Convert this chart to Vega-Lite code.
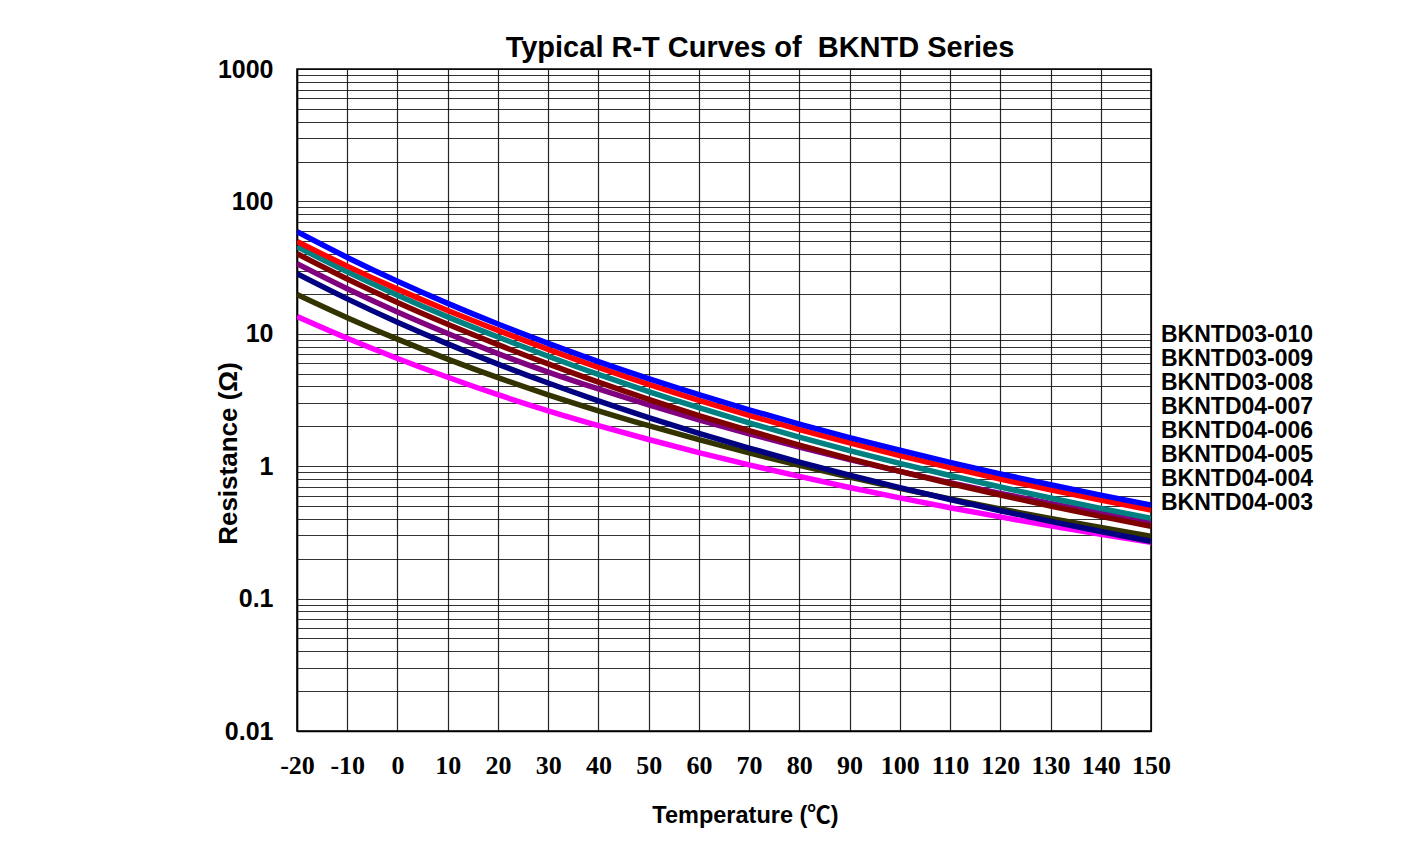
{
  "$schema": "https://vega.github.io/schema/vega-lite/v6.json",
  "autosize": {"type": "none"},
  "width": 854,
  "height": 662,
  "padding": {"left": 297, "top": 69, "right": 264, "bottom": 134},
  "background": "white",
  "config": {
    "font": "Liberation Sans",
    "view": {"stroke": "#000", "strokeWidth": 1.5}
  },
  "title": {
    "text": "Typical R-T Curves of \u00a0BKNTD Series",
    "font": "Liberation Sans",
    "fontSize": 29,
    "fontWeight": "bold",
    "color": "#000",
    "anchor": "middle",
    "frame": "group",
    "dx": 36,
    "dy": 14,
    "offset": 8
  },
  "data": {
    "values": [
      {"s": "BKNTD04-003", "t": -20, "r": 13.51}, {"s": "BKNTD04-003", "t": -10, "r": 9.249}, {"s": "BKNTD04-003", "t": 0, "r": 6.511}, {"s": "BKNTD04-003", "t": 10, "r": 4.698}, {"s": "BKNTD04-003", "t": 20, "r": 3.466}, {"s": "BKNTD04-003", "t": 30, "r": 2.620}, {"s": "BKNTD04-003", "t": 40, "r": 2.026}, {"s": "BKNTD04-003", "t": 50, "r": 1.591}, {"s": "BKNTD04-003", "t": 60, "r": 1.268}, {"s": "BKNTD04-003", "t": 70, "r": 1.023}, {"s": "BKNTD04-003", "t": 80, "r": 0.837}, {"s": "BKNTD04-003", "t": 90, "r": 0.691}, {"s": "BKNTD04-003", "t": 100, "r": 0.577}, {"s": "BKNTD04-003", "t": 110, "r": 0.486}, {"s": "BKNTD04-003", "t": 120, "r": 0.414}, {"s": "BKNTD04-003", "t": 130, "r": 0.354}, {"s": "BKNTD04-003", "t": 140, "r": 0.306}, {"s": "BKNTD04-003", "t": 150, "r": 0.266},
      {"s": "BKNTD04-004", "t": -20, "r": 19.82}, {"s": "BKNTD04-004", "t": -10, "r": 13.24}, {"s": "BKNTD04-004", "t": 0, "r": 9.118}, {"s": "BKNTD04-004", "t": 10, "r": 6.444}, {"s": "BKNTD04-004", "t": 20, "r": 4.664}, {"s": "BKNTD04-004", "t": 30, "r": 3.459}, {"s": "BKNTD04-004", "t": 40, "r": 2.622}, {"s": "BKNTD04-004", "t": 50, "r": 2.023}, {"s": "BKNTD04-004", "t": 60, "r": 1.585}, {"s": "BKNTD04-004", "t": 70, "r": 1.259}, {"s": "BKNTD04-004", "t": 80, "r": 1.014}, {"s": "BKNTD04-004", "t": 90, "r": 0.826}, {"s": "BKNTD04-004", "t": 100, "r": 0.680}, {"s": "BKNTD04-004", "t": 110, "r": 0.566}, {"s": "BKNTD04-004", "t": 120, "r": 0.475}, {"s": "BKNTD04-004", "t": 130, "r": 0.403}, {"s": "BKNTD04-004", "t": 140, "r": 0.344}, {"s": "BKNTD04-004", "t": 150, "r": 0.296},
      {"s": "BKNTD04-005", "t": -20, "r": 28.41}, {"s": "BKNTD04-005", "t": -10, "r": 18.35}, {"s": "BKNTD04-005", "t": 0, "r": 12.23}, {"s": "BKNTD04-005", "t": 10, "r": 8.391}, {"s": "BKNTD04-005", "t": 20, "r": 5.907}, {"s": "BKNTD04-005", "t": 30, "r": 4.249}, {"s": "BKNTD04-005", "t": 40, "r": 3.117}, {"s": "BKNTD04-005", "t": 50, "r": 2.331}, {"s": "BKNTD04-005", "t": 60, "r": 1.773}, {"s": "BKNTD04-005", "t": 70, "r": 1.371}, {"s": "BKNTD04-005", "t": 80, "r": 1.075}, {"s": "BKNTD04-005", "t": 90, "r": 0.855}, {"s": "BKNTD04-005", "t": 100, "r": 0.688}, {"s": "BKNTD04-005", "t": 110, "r": 0.560}, {"s": "BKNTD04-005", "t": 120, "r": 0.461}, {"s": "BKNTD04-005", "t": 130, "r": 0.383}, {"s": "BKNTD04-005", "t": 140, "r": 0.321}, {"s": "BKNTD04-005", "t": 150, "r": 0.271},
      {"s": "BKNTD04-006", "t": -20, "r": 33.83}, {"s": "BKNTD04-006", "t": -10, "r": 21.89}, {"s": "BKNTD04-006", "t": 0, "r": 14.62}, {"s": "BKNTD04-006", "t": 10, "r": 10.05}, {"s": "BKNTD04-006", "t": 20, "r": 7.083}, {"s": "BKNTD04-006", "t": 30, "r": 5.141}, {"s": "BKNTD04-006", "t": 40, "r": 3.831}, {"s": "BKNTD04-006", "t": 50, "r": 2.907}, {"s": "BKNTD04-006", "t": 60, "r": 2.243}, {"s": "BKNTD04-006", "t": 70, "r": 1.756}, {"s": "BKNTD04-006", "t": 80, "r": 1.395}, {"s": "BKNTD04-006", "t": 90, "r": 1.122}, {"s": "BKNTD04-006", "t": 100, "r": 0.913}, {"s": "BKNTD04-006", "t": 110, "r": 0.751}, {"s": "BKNTD04-006", "t": 120, "r": 0.624}, {"s": "BKNTD04-006", "t": 130, "r": 0.523}, {"s": "BKNTD04-006", "t": 140, "r": 0.442}, {"s": "BKNTD04-006", "t": 150, "r": 0.377},
      {"s": "BKNTD04-007", "t": -20, "r": 40.33}, {"s": "BKNTD04-007", "t": -10, "r": 25.95}, {"s": "BKNTD04-007", "t": 0, "r": 17.24}, {"s": "BKNTD04-007", "t": 10, "r": 11.80}, {"s": "BKNTD04-007", "t": 20, "r": 8.281}, {"s": "BKNTD04-007", "t": 30, "r": 5.923}, {"s": "BKNTD04-007", "t": 40, "r": 4.309}, {"s": "BKNTD04-007", "t": 50, "r": 3.197}, {"s": "BKNTD04-007", "t": 60, "r": 2.415}, {"s": "BKNTD04-007", "t": 70, "r": 1.854}, {"s": "BKNTD04-007", "t": 80, "r": 1.445}, {"s": "BKNTD04-007", "t": 90, "r": 1.142}, {"s": "BKNTD04-007", "t": 100, "r": 0.914}, {"s": "BKNTD04-007", "t": 110, "r": 0.740}, {"s": "BKNTD04-007", "t": 120, "r": 0.6056}, {"s": "BKNTD04-007", "t": 130, "r": 0.5005}, {"s": "BKNTD04-007", "t": 140, "r": 0.4176}, {"s": "BKNTD04-007", "t": 150, "r": 0.3513},
      {"s": "BKNTD03-008", "t": -20, "r": 45.54}, {"s": "BKNTD03-008", "t": -10, "r": 29.39}, {"s": "BKNTD03-008", "t": 0, "r": 19.59}, {"s": "BKNTD03-008", "t": 10, "r": 13.43}, {"s": "BKNTD03-008", "t": 20, "r": 9.453}, {"s": "BKNTD03-008", "t": 30, "r": 6.772}, {"s": "BKNTD03-008", "t": 40, "r": 4.930}, {"s": "BKNTD03-008", "t": 50, "r": 3.661}, {"s": "BKNTD03-008", "t": 60, "r": 2.767}, {"s": "BKNTD03-008", "t": 70, "r": 2.126}, {"s": "BKNTD03-008", "t": 80, "r": 1.658}, {"s": "BKNTD03-008", "t": 90, "r": 1.311}, {"s": "BKNTD03-008", "t": 100, "r": 1.050}, {"s": "BKNTD03-008", "t": 110, "r": 0.850}, {"s": "BKNTD03-008", "t": 120, "r": 0.696}, {"s": "BKNTD03-008", "t": 130, "r": 0.5755}, {"s": "BKNTD03-008", "t": 140, "r": 0.480}, {"s": "BKNTD03-008", "t": 150, "r": 0.404},
      {"s": "BKNTD03-009", "t": -20, "r": 49.93}, {"s": "BKNTD03-009", "t": -10, "r": 32.44}, {"s": "BKNTD03-009", "t": 0, "r": 21.75}, {"s": "BKNTD03-009", "t": 10, "r": 15.00}, {"s": "BKNTD03-009", "t": 20, "r": 10.61}, {"s": "BKNTD03-009", "t": 30, "r": 7.630}, {"s": "BKNTD03-009", "t": 40, "r": 5.571}, {"s": "BKNTD03-009", "t": 50, "r": 4.147}, {"s": "BKNTD03-009", "t": 60, "r": 3.143}, {"s": "BKNTD03-009", "t": 70, "r": 2.420}, {"s": "BKNTD03-009", "t": 80, "r": 1.892}, {"s": "BKNTD03-009", "t": 90, "r": 1.499}, {"s": "BKNTD03-009", "t": 100, "r": 1.202}, {"s": "BKNTD03-009", "t": 110, "r": 0.976}, {"s": "BKNTD03-009", "t": 120, "r": 0.800}, {"s": "BKNTD03-009", "t": 130, "r": 0.663}, {"s": "BKNTD03-009", "t": 140, "r": 0.554}, {"s": "BKNTD03-009", "t": 150, "r": 0.467},
      {"s": "BKNTD03-010", "t": -20, "r": 59.02}, {"s": "BKNTD03-010", "t": -10, "r": 37.75}, {"s": "BKNTD03-010", "t": 0, "r": 24.95}, {"s": "BKNTD03-010", "t": 10, "r": 16.98}, {"s": "BKNTD03-010", "t": 20, "r": 11.86}, {"s": "BKNTD03-010", "t": 30, "r": 8.468}, {"s": "BKNTD03-010", "t": 40, "r": 6.171}, {"s": "BKNTD03-010", "t": 50, "r": 4.586}, {"s": "BKNTD03-010", "t": 60, "r": 3.469}, {"s": "BKNTD03-010", "t": 70, "r": 2.667}, {"s": "BKNTD03-010", "t": 80, "r": 2.081}, {"s": "BKNTD03-010", "t": 90, "r": 1.646}, {"s": "BKNTD03-010", "t": 100, "r": 1.319}, {"s": "BKNTD03-010", "t": 110, "r": 1.069}, {"s": "BKNTD03-010", "t": 120, "r": 0.876}, {"s": "BKNTD03-010", "t": 130, "r": 0.7245}, {"s": "BKNTD03-010", "t": 140, "r": 0.605}, {"s": "BKNTD03-010", "t": 150, "r": 0.509}
    ]
  },
  "mark": {"type": "line", "strokeWidth": 5.5, "interpolate": "monotone", "strokeCap": "butt", "clip": true},
  "encoding": {
    "x": {
      "field": "t",
      "type": "quantitative",
      "scale": {"domain": [-20, 150], "nice": false, "zero": false},
      "axis": {
        "values": [-20, -10, 0, 10, 20, 30, 40, 50, 60, 70, 80, 90, 100, 110, 120, 130, 140, 150],
        "labelExpr": "'' + datum.value",
        "title": "Temperature (℃)",
        "titleFont": "Liberation Sans, Noto Sans CJK SC",
        "titleFontSize": 23.5,
        "titleFontWeight": "bold",
        "titleColor": "#000",
        "titleX": 448,
        "titleY": 84,
        "titleBaseline": "middle",
        "titleAlign": "center",
        "labelFont": "Liberation Serif",
        "labelFontSize": 26,
        "labelFontWeight": "bold",
        "labelColor": "#000",
        "labelPadding": 21,
        "labelFlush": false,
        "labelOverlap": false,
        "ticks": false,
        "domainColor": "#000",
        "domainWidth": 1.5,
        "grid": true,
        "gridColor": "#000",
        "gridWidth": 1.2,
        "gridOpacity": 0.85
      }
    },
    "y": {
      "field": "r",
      "type": "quantitative",
      "scale": {"type": "log", "domain": [0.01, 1000], "nice": false},
      "axis": {
        "values": [0.01, 0.02, 0.03, 0.04, 0.05, 0.06, 0.07, 0.08, 0.09, 0.1, 0.2, 0.3, 0.4, 0.5, 0.6, 0.7, 0.8, 0.9, 1, 2, 3, 4, 5, 6, 7, 8, 9, 10, 20, 30, 40, 50, 60, 70, 80, 90, 100, 200, 300, 400, 500, 600, 700, 800, 900, 1000],
        "format": "~g",
        "labelExpr": "indexof([0.01, 0.1, 1, 10, 100, 1000], datum.value) >= 0 ? datum.label : ''",
        "title": "Resistance (Ω)",
        "titleFont": "Liberation Sans",
        "titleFontSize": 26,
        "titleFontWeight": "bold",
        "titleColor": "#000",
        "titleX": -69,
        "titleY": 384,
        "titleAngle": -90,
        "titleBaseline": "middle",
        "titleAlign": "center",
        "labelFont": "Liberation Sans",
        "labelFontSize": 25,
        "labelFontWeight": "bold",
        "labelColor": "#000",
        "labelPadding": 24,
        "labelFlush": false,
        "labelOverlap": false,
        "ticks": false,
        "domainColor": "#000",
        "domainWidth": 1.5,
        "grid": true,
        "gridColor": "#000",
        "gridWidth": 1.2,
        "gridOpacity": 0.8
      }
    },
    "color": {
      "field": "s",
      "type": "nominal",
      "scale": {
        "domain": ["BKNTD03-010", "BKNTD03-009", "BKNTD03-008", "BKNTD04-007", "BKNTD04-006", "BKNTD04-005", "BKNTD04-004", "BKNTD04-003"],
        "range": ["#0000FF", "#FF0000", "#008080", "#800000", "#800080", "#000080", "#333300", "#FF00FF"]
      },
      "legend": {
        "orient": "none",
        "legendX": 841,
        "legendY": 254,
        "title": null,
        "symbolSize": 0,
        "symbolStrokeWidth": 0,
        "symbolOpacity": 0,
        "labelOffset": 0,
        "labelFont": "Liberation Sans",
        "labelFontSize": 23,
        "labelFontWeight": "bold",
        "labelColor": "#000",
        "labelLimit": 400,
        "rowPadding": 0,
        "padding": 0
      }
    }
  }
}
